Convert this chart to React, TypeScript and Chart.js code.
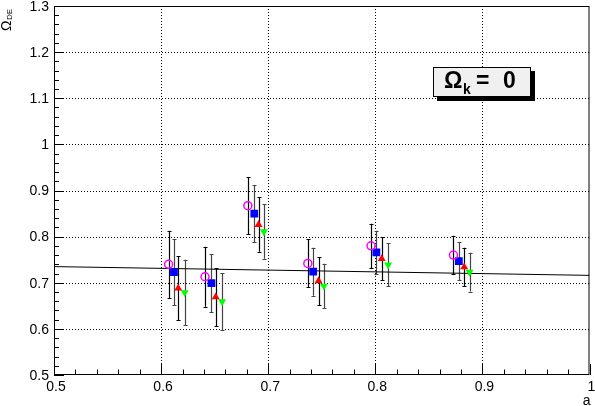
import { useEffect, useRef } from "react";
import { Chart, registerables } from "chart.js";

Chart.register(...registerables);

// ---- data ----
const magentaX = [0.607, 0.641, 0.681, 0.737, 0.796, 0.873];
const magentaY = [0.740, 0.713, 0.867, 0.742, 0.780, 0.760];
const magentaErr = [0.073, 0.065, 0.062, 0.052, 0.048, 0.042];

const blueX = [0.612, 0.647, 0.687, 0.742, 0.801, 0.878];
const blueY = [0.723, 0.699, 0.850, 0.724, 0.766, 0.747];
const blueErr = [0.072, 0.063, 0.062, 0.052, 0.047, 0.041];

const redX = [0.616, 0.651, 0.691, 0.747, 0.806, 0.883];
const redY = [0.688, 0.669, 0.826, 0.704, 0.752, 0.734];
const redErr = [0.069, 0.063, 0.059, 0.052, 0.047, 0.042];

const greenX = [0.622, 0.657, 0.696, 0.752, 0.812, 0.888];
const greenY = [0.679, 0.659, 0.811, 0.693, 0.739, 0.723];
const greenErr = [0.071, 0.062, 0.059, 0.048, 0.047, 0.042];

const fitX = [0.5, 1.0];
const fitY = [0.735, 0.716];

const xTickValues = [0.5, 0.6, 0.7, 0.8, 0.9, 1.0];
const xTickLabels = ["0.5", "0.6", "0.7", "0.8", "0.9", "1"];
const yTickValues = [0.5, 0.6, 0.7, 0.8, 0.9, 1.0, 1.1, 1.2, 1.3];
const yTickLabels = ["0.5", "0.6", "0.7", "0.8", "0.9", "1", "1.1", "1.2", "1.3"];

const xTitle = "a";
const legendText = { main: "\u03A9", sub: "k", rest: "= 0" };

const series = [
  { x: magentaX, y: magentaY, err: magentaErr, barColor: "#000000" },
  { x: blueX, y: blueY, err: blueErr, barColor: "#444444" },
  { x: redX, y: redY, err: redErr, barColor: "#000000" },
  { x: greenX, y: greenY, err: greenErr, barColor: "#444444" },
];

const toPoints = (xs: number[], ys: number[]) => xs.map((x, i) => ({ x, y: ys[i] }));

const FONT = "'Liberation Sans', Arial, Helvetica, sans-serif";

const rootPlugin = {
  id: "rootStyle",
  beforeDatasetsDraw(chart: any) {
    const { ctx, chartArea: a, scales } = chart;
    const xs = scales.x;
    const ys = scales.y;
    ctx.save();
    // dotted grid
    ctx.strokeStyle = "#000";
    ctx.lineWidth = 1;
    ctx.setLineDash([1, 2]);
    xTickValues.forEach((v) => {
      const px = Math.round(xs.getPixelForValue(v)) + 0.5;
      if (px <= a.left + 1 || px >= a.right - 1) return;
      ctx.beginPath();
      ctx.moveTo(px, a.top);
      ctx.lineTo(px, a.bottom);
      ctx.stroke();
    });
    yTickValues.forEach((v) => {
      const py = Math.round(ys.getPixelForValue(v)) + 0.5;
      if (py <= a.top + 1 || py >= a.bottom - 1) return;
      ctx.beginPath();
      ctx.moveTo(a.left, py);
      ctx.lineTo(a.right, py);
      ctx.stroke();
    });
    ctx.setLineDash([]);
    // error bars
    series.forEach((s) => {
      ctx.strokeStyle = s.barColor;
      ctx.lineWidth = 1.2;
      s.x.forEach((xv, i) => {
        const px = Math.round(xs.getPixelForValue(xv)) + 0.5;
        const top = ys.getPixelForValue(s.y[i] + s.err[i]);
        const bot = ys.getPixelForValue(s.y[i] - s.err[i]);
        ctx.beginPath();
        ctx.moveTo(px, top);
        ctx.lineTo(px, bot);
        ctx.moveTo(px - 2, Math.round(top) + 0.5);
        ctx.lineTo(px + 2, Math.round(top) + 0.5);
        ctx.moveTo(px - 2, Math.round(bot) + 0.5);
        ctx.lineTo(px + 2, Math.round(bot) + 0.5);
        ctx.stroke();
      });
    });
    ctx.restore();
  },
  afterDraw(chart: any) {
    const { ctx, chartArea: a, scales } = chart;
    const xs = scales.x;
    const ys = scales.y;
    ctx.save();
    ctx.strokeStyle = "#000";
    ctx.lineWidth = 1;
    // frame
    ctx.strokeRect(a.left + 0.5, a.top + 0.5, a.right - a.left - 1, a.bottom - a.top - 1);
    // x ticks (inside, upward)
    ctx.beginPath();
    for (let i = 0; i <= 25; i++) {
      const v = 0.5 + i * 0.02;
      const px = Math.round(xs.getPixelForValue(v)) + 0.5;
      const len = i % 5 === 0 ? 11 : 5.5;
      ctx.moveTo(px, a.bottom);
      ctx.lineTo(px, a.bottom - len);
    }
    // y ticks (inside, rightward)
    for (let i = 0; i <= 40; i++) {
      const v = 0.5 + i * 0.02;
      const py = Math.round(ys.getPixelForValue(v)) + 0.5;
      const len = i % 5 === 0 ? 10 : 5;
      ctx.moveTo(a.left, py);
      ctx.lineTo(a.left + len, py);
    }
    ctx.stroke();

    // tick labels
    ctx.fillStyle = "#000";
    ctx.font = `14px ${FONT}`;
    ctx.textAlign = "center";
    ctx.textBaseline = "alphabetic";
    xTickValues.forEach((v, i) => {
      ctx.fillText(xTickLabels[i], xs.getPixelForValue(v) + 2, a.bottom + 16);
    });
    ctx.textAlign = "right";
    ctx.textBaseline = "middle";
    yTickValues.forEach((v, i) => {
      ctx.fillText(yTickLabels[i], a.left - 5, ys.getPixelForValue(v) + 1);
    });

    // x title
    ctx.textAlign = "right";
    ctx.textBaseline = "alphabetic";
    ctx.font = `14px ${FONT}`;
    ctx.fillText(xTitle, a.right + 1, 405);

    // y title (rotated)
    ctx.save();
    ctx.translate(11, 31);
    ctx.rotate(-Math.PI / 2);
    ctx.textAlign = "left";
    ctx.font = `14px ${FONT}`;
    ctx.fillText("\u03A9", 0, 0);
    const wOm = ctx.measureText("\u03A9").width;
    ctx.font = `8px ${FONT}`;
    ctx.fillText("DE", wOm + 0.5, 1);
    ctx.restore();

    // legend box with shadow
    const bx = 433, by = 67, bw = 98, bh = 30;
    ctx.fillStyle = "#000";
    ctx.fillRect(bx + 4, by + 4, bw, bh);
    ctx.fillStyle = "#f0f0f0";
    ctx.fillRect(bx, by, bw, bh);
    ctx.strokeStyle = "#000";
    ctx.strokeRect(bx + 0.5, by + 0.5, bw - 1, bh - 1);
    ctx.fillStyle = "#000";
    ctx.textAlign = "left";
    ctx.textBaseline = "alphabetic";
    ctx.font = `bold 23px ${FONT}`;
    ctx.fillText(legendText.main, 444, 88);
    const w1 = ctx.measureText(legendText.main).width;
    ctx.font = `bold 14px ${FONT}`;
    ctx.fillText(legendText.sub, 444 + w1 + 0.5, 94);
    ctx.font = `bold 23px ${FONT}`;
    ctx.fillText("=", 476, 88);
    ctx.fillText("0", 503, 88);
    ctx.restore();
  },
};

export default function App() {
  const ref = useRef<HTMLCanvasElement | null>(null);
  useEffect(() => {
    if (!ref.current) return;
    const chart = new Chart(ref.current, {
      type: "scatter",
      data: {
        datasets: [
          {
            type: "line",
            data: toPoints(fitX, fitY),
            borderColor: "#000",
            borderWidth: 1,
            pointRadius: 0,
            fill: false,
            order: 10,
          } as any,
          {
            data: toPoints(magentaX, magentaY),
            pointStyle: "circle",
            pointRadius: 4,
            pointBorderWidth: 1.5,
            borderColor: "#ff00ff",
            backgroundColor: "rgba(0,0,0,0)",
            order: 1,
          },
          {
            data: toPoints(blueX, blueY),
            pointStyle: "rect",
            pointRadius: 5.5,
            pointBorderWidth: 0,
            borderColor: "#0000ff",
            backgroundColor: "#0000ff",
            order: 1,
          },
          {
            data: toPoints(redX, redY),
            pointStyle: "triangle",
            pointRadius: 4.6,
            pointBorderWidth: 0,
            borderColor: "#ff0000",
            backgroundColor: "#ff0000",
            order: 1,
          },
          {
            data: toPoints(greenX, greenY),
            pointStyle: "triangle",
            pointRotation: 180,
            pointRadius: 4.6,
            pointBorderWidth: 0,
            borderColor: "#00ff00",
            backgroundColor: "#00ff00",
            order: 1,
          },
        ],
      },
      options: {
        animation: false,
        responsive: false,
        maintainAspectRatio: false,
        layout: { padding: { left: 54, top: 6, right: 1, bottom: 31 } },
        scales: {
          x: { type: "linear", min: 0.5, max: 1.0, display: false },
          y: { type: "linear", min: 0.5, max: 1.3, display: false },
        },
        plugins: { legend: { display: false }, tooltip: { enabled: false } },
        events: [],
      },
      plugins: [rootPlugin],
    });
    return () => chart.destroy();
  }, []);
  return (
    <div style={{ position: "fixed", left: 0, top: 0, width: 595, height: 406, background: "#fff" }}>
      <canvas ref={ref} width={595} height={406} style={{ display: "block" }} />
    </div>
  );
}
